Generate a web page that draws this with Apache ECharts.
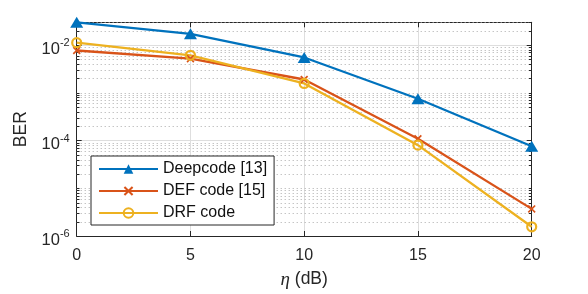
<!DOCTYPE html>
<html>
<head>
<meta charset="utf-8">
<script src="https://cdn.jsdelivr.net/npm/echarts@6/dist/echarts.min.js"></script>
<style>html,body{margin:0;padding:0;background:#fff}#c{width:588px;height:294px}</style>
</head>
<body>
<div id="c"></div>
<script>
// ---- data ----
var eta = [0, 5, 10, 15, 20];
var deepcode = [0.030, 0.0172, 0.0055, 7.5e-4, 7.6e-5];
var defCode = [7.7e-3, 5.2e-3, 1.9e-3, 1.09e-4, 3.7e-6];
var drfCode = [0.0112, 6.1e-3, 1.57e-3, 8.0e-5, 1.56e-6];
var seriesNames = ['Deepcode [13]', 'DEF code [15]', 'DRF code'];
var xTicks = [0, 5, 10, 15, 20];
var yTickExps = [-6, -4, -2];

var yMin = 1e-6, yMax = 0.03;
var axisColor = '#262626';
var font = 'Liberation Sans';

// minor grid values (m x 10^k) excluding labelled decades
var minorVals = [];
for (var k = -6; k <= -2; k++) {
  for (var m = 1; m <= 9; m++) {
    var v = m * Math.pow(10, k);
    if (v > yMax * 1.0001) continue;
    if (m === 1 && yTickExps.indexOf(k) >= 0) continue;
    minorVals.push(+v.toPrecision(3));
  }
}

function pairs(ys) { return eta.map(function (x, i) { return [x, ys[i]]; }); }

function yLabel(v) {
  var e = Math.log10(v);
  var r = Math.round(e);
  if (Math.abs(e - r) < 1e-6 && yTickExps.indexOf(r) >= 0) {
    return '{b|10}{s|' + r + '}';
  }
  return '';
}

function renderMinor(params, api) {
  var v = api.value(0);
  var xa = xTicks[0], xb = xTicks[xTicks.length - 1];
  var p0 = api.coord([xa, v]);
  var p1 = api.coord([xb, v]);
  var y = Math.round(p0[1]) + 0.5;
  var tl = 2.8;
  return {
    type: 'group',
    children: [{
      type: 'line', silent: true,
      shape: { x1: p0[0], y1: y, x2: p1[0], y2: y },
      style: { stroke: '#ababab', lineWidth: 1, lineDash: [1, 3] }
    }, {
      type: 'line', silent: true,
      shape: { x1: p0[0], y1: y, x2: p0[0] + tl, y2: y },
      style: { stroke: axisColor, lineWidth: 1 }
    }, {
      type: 'line', silent: true,
      shape: { x1: p1[0] - tl, y1: y, x2: p1[0], y2: y },
      style: { stroke: axisColor, lineWidth: 1 }
    }]
  };
}

var chart = echarts.init(document.getElementById('c'));
chart.setOption({
  animation: false,
  backgroundColor: '#fff',
  grid: { left: 76.7, right: 56.3, top: 22.3, bottom: 56.7, containLabel: false },
  xAxis: [{
    type: 'value', min: 0, max: 20, interval: 5, position: 'bottom',
    axisLine: { show: true, onZero: false, lineStyle: { color: axisColor, width: 1 } },
    axisTick: { show: true, inside: true, length: 5, lineStyle: { color: axisColor } },
    axisLabel: { color: axisColor, fontFamily: font, fontSize: 16, margin: 11.5 },
    splitLine: { show: true, lineStyle: { color: '#dedede', width: 1 } },
    name: '{i|η} (dB)', nameLocation: 'middle', nameGap: 34,
    nameTextStyle: {
      color: axisColor, fontFamily: font, fontSize: 17.5,
      rich: { i: { fontFamily: 'Liberation Serif', fontStyle: 'italic', fontSize: 19, color: axisColor } }
    }
  }, {
    type: 'value', min: 0, max: 20, interval: 5, position: 'top',
    axisLine: { show: true, onZero: false, lineStyle: { color: axisColor, width: 1 } },
    axisTick: { show: true, inside: true, length: 5, lineStyle: { color: axisColor } },
    axisLabel: { show: false }, splitLine: { show: false }
  }],
  yAxis: [{
    type: 'log', logBase: 10, min: yMin, max: yMax, interval: 2, position: 'left',
    axisLine: { show: true, onZero: false, lineStyle: { color: axisColor, width: 1 } },
    axisTick: { show: true, inside: true, length: 5, lineStyle: { color: axisColor } },
    axisLabel: {
      showMaxLabel: false, margin: 7, formatter: yLabel, padding: [5, 0, 0, 0],
      rich: {
        b: { fontFamily: font, fontSize: 16.5, color: axisColor, lineHeight: 20, verticalAlign: 'bottom' },
        s: { fontFamily: font, fontSize: 11, color: axisColor, lineHeight: 11, verticalAlign: 'top' }
      }
    },
    splitLine: { show: true, lineStyle: { color: '#dedede', width: 1 } },
    name: 'BER', nameLocation: 'middle', nameGap: 47, nameRotate: 90,
    nameTextStyle: { color: axisColor, fontFamily: font, fontSize: 17.5 }
  }, {
    type: 'log', logBase: 10, min: yMin, max: yMax, interval: 2, position: 'right',
    axisLine: { show: true, onZero: false, lineStyle: { color: axisColor, width: 1 } },
    axisTick: { show: true, inside: true, length: 5, lineStyle: { color: axisColor } },
    axisLabel: { show: false }, splitLine: { show: false }
  }],
  legend: {
    orient: 'vertical', left: 91, top: 156,
    padding: [4, 7, 3, 7], itemGap: 4, itemWidth: 59, itemHeight: 12,
    backgroundColor: '#fff', borderColor: '#262626', borderWidth: 1, borderRadius: 0,
    textStyle: { fontFamily: font, fontSize: 16, color: '#111', lineHeight: 18 },
    data: seriesNames
  },
  series: [{
    type: 'custom', name: '_minor', silent: true, z: 1,
    xAxisIndex: 0, yAxisIndex: 0,
    renderItem: renderMinor,
    encode: { y: 0 },
    data: minorVals.map(function (v) { return [v]; }),
    clip: false
  }, {
    type: 'line', name: seriesNames[0], data: pairs(deepcode), z: 5, clip: false,
    color: '#0072BD',
    lineStyle: { color: '#0072BD', width: 2.3 },
    symbol: 'triangle', symbolSize: [13, 11], showAllSymbol: true,
    itemStyle: { color: '#0072BD', borderWidth: 0 }
  }, {
    type: 'line', name: seriesNames[1], data: pairs(defCode), z: 5, clip: false,
    color: '#D95319',
    lineStyle: { color: '#D95319', width: 2.3 },
    symbol: 'path://M1.5,0L5,3.5L8.5,0L10,1.5L6.5,5L10,8.5L8.5,10L5,6.5L1.5,10L0,8.5L3.5,5L0,1.5Z',
    symbolSize: 8, showAllSymbol: true,
    itemStyle: { color: '#D95319', borderWidth: 0 }
  }, {
    type: 'line', name: seriesNames[2], data: pairs(drfCode), z: 5, clip: false,
    color: '#EDB120',
    lineStyle: { color: '#EDB120', width: 2.3 },
    symbol: 'circle', symbolSize: 9, showAllSymbol: true,
    itemStyle: { color: 'rgba(255,255,255,0)', borderColor: '#EDB120', borderWidth: 2.2 }
  }]
});
</script>
</body>
</html>
